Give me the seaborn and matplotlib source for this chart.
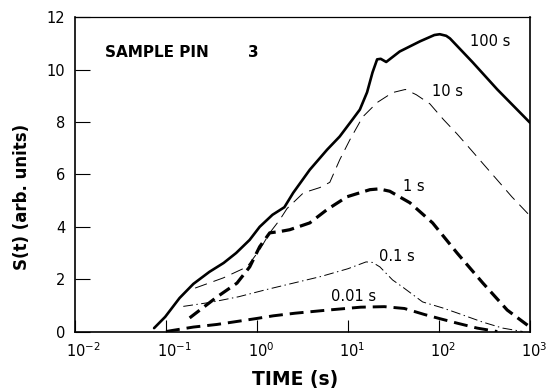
import matplotlib
matplotlib.use("Agg")
import matplotlib.pyplot as plt
from matplotlib.ticker import NullLocator, FixedLocator
from matplotlib.transforms import ScaledTranslation
import seaborn as sns

# Time axis values (s) and signal S(t) for each integration time
t_100 = [0.074, 0.098, 0.141, 0.20, 0.30, 0.43, 0.59, 0.83, 1.07, 1.48, 2.0, 2.5,
         3.8, 5.9, 8.1, 11.2, 13.5, 16.2, 18.6, 20.9, 22.9, 26.3, 37, 62, 89, 102,
         120, 132, 234, 437, 1000]
s_100 = [0.13, 0.56, 1.28, 1.82, 2.28, 2.62, 3.0, 3.5, 4.0, 4.46, 4.75, 5.3,
         6.18, 6.95, 7.45, 8.1, 8.48, 9.14, 9.9, 10.4, 10.42, 10.3, 10.7, 11.09, 11.33, 11.36,
         11.3, 11.2, 10.29, 9.25, 7.98]

t_10 = [0.209, 0.427, 0.776, 1.07, 1.38, 1.78, 2.14, 3.24, 4.9, 6.31, 8.13, 10.5,
        14.5, 20.9, 30.9, 42.7, 56.2, 79.4, 112, 158, 224, 316, 447, 631, 1000]
s_10 = [1.66, 2.05, 2.47, 3.12, 3.77, 4.27, 4.7, 5.3, 5.5, 5.7, 6.57, 7.33,
        8.2, 8.75, 9.13, 9.25, 9.05, 8.7, 8.1, 7.55, 6.95, 6.35, 5.75, 5.15, 4.42]

t_1 = [0.182, 0.363, 0.603, 0.832, 1.07, 1.38, 1.78, 2.29, 3.8, 5.89, 9.77, 17.4,
       21.9, 28.8, 47.9, 85.1, 158, 302, 562, 1000]
s_1 = [0.52, 1.32, 1.85, 2.47, 3.24, 3.77, 3.82, 3.89, 4.15, 4.66, 5.15, 5.42,
       5.45, 5.36, 4.92, 4.15, 3.0, 1.86, 0.82, 0.17]

t_01 = [0.155, 0.316, 0.631, 1.26, 2.51, 5.01, 10, 15.8, 18.6, 22.4, 30.9, 39.8,
        66.1, 110, 158, 302, 501, 832]
s_01 = [0.96, 1.12, 1.33, 1.6, 1.85, 2.1, 2.4, 2.66, 2.64, 2.47, 1.97, 1.7,
        1.13, 0.9, 0.71, 0.36, 0.13, 0.0]

t_001 = [0.1, 0.117, 0.2, 0.363, 0.646, 1.0, 1.51, 2.63, 6.03, 13.8, 25.1, 41.7,
         69.2, 100, 158, 263, 437]
s_001 = [0.0, 0.04, 0.17, 0.27, 0.4, 0.5, 0.6, 0.7, 0.82, 0.93, 0.95, 0.88,
         0.65, 0.5, 0.32, 0.13, 0.0]

curve_labels = ["100 s", "10 s", "1 s", "0.1 s", "0.01 s"]
y_ticks = [0, 2, 4, 6, 8, 10, 12]
x_ticks = [1e-2, 1e-1, 1e0, 1e1, 1e2, 1e3]
x_tick_labels = [r"$\mathdefault{10^{-2}}$", r"$\mathdefault{10^{-1}}$",
                 r"$\mathdefault{10^{0}}$", r"$\mathdefault{10^{1}}$",
                 r"$\mathdefault{10^{2}}$", r"$\mathdefault{10^{3}}$"]

sns.set_style("ticks")
plt.rcParams["font.family"] = ["DejaVu Sans"]
plt.rcParams["lines.scale_dashes"] = False
for key in ["text.color", "axes.labelcolor", "xtick.color", "ytick.color",
            "axes.edgecolor"]:
    plt.rcParams[key] = "black"

fig = plt.figure(figsize=(5.53, 3.92), dpi=100)
ax = fig.add_axes([0.1356, 0.1543, 0.8228, 0.8011])

sns.lineplot(x=t_100, y=s_100, ax=ax, color="black", lw=1.9, errorbar=None,
             linestyle="-")
sns.lineplot(x=t_10, y=s_10, ax=ax, color="black", lw=0.7, errorbar=None,
             linestyle=(0, (9, 5)))
sns.lineplot(x=t_1, y=s_1, ax=ax, color="black", lw=2.3, errorbar=None,
             linestyle=(0, (9, 4.5)))
sns.lineplot(x=t_01, y=s_01, ax=ax, color="black", lw=0.7, errorbar=None,
             linestyle=(0, (7, 2.5, 1, 2.5)))
sns.lineplot(x=t_001, y=s_001, ax=ax, color="black", lw=2.1, errorbar=None,
             linestyle=(0, (10, 5)))

ax.set_xscale("log")
ax.set_xlim(1e-2, 1e3)
ax.set_ylim(0, 12)
ax.set_yticks(y_ticks)
ax.xaxis.set_major_locator(FixedLocator(x_ticks))
ax.xaxis.set_minor_locator(NullLocator())
ax.set_xticklabels(x_tick_labels)
ax.tick_params(axis="x", direction="in", length=8.5, width=0.8, pad=7,
               labelsize=10.5)
ax.tick_params(axis="y", direction="in", length=10.5, width=0.8, pad=7,
               labelsize=10.5)

# keep the "10" of each power label centred on its tick, exponent to the right
shift = ScaledTranslation(-9.3 / 100, 0, fig.dpi_scale_trans)
for lab in ax.get_xticklabels():
    lab.set_ha("left")
    lab.set_transform(lab.get_transform() + shift)

for side in ["left", "right", "bottom"]:
    ax.spines[side].set_linewidth(1.2)
ax.spines["top"].set_linewidth(0.9)

# Curve annotations
label_pos = [(219, 11.09), (83.8, 9.18), (40.2, 5.54), (21.9, 2.85), (6.5, 1.32)]
for lab, (x, y) in zip(curve_labels, label_pos):
    ax.text(x, y, lab, fontsize=10.5, ha="left", va="center")

ax.text(0.0214, 10.67, "SAMPLE PIN", fontsize=11, fontweight="bold",
        ha="left", va="center")
ax.text(0.796, 10.67, "3", fontsize=11, fontweight="bold",
        ha="left", va="center")

ax.set_xlabel("TIME (s)", fontsize=13.5, fontweight="bold")
ax.set_ylabel("S(t) (arb. units)", fontsize=12, fontweight="bold")
ax.xaxis.set_label_coords(0.484, -0.154)
ax.xaxis.label.set_va("center")
ax.yaxis.set_label_coords(-0.117, 0.43)
ax.yaxis.label.set_va("center")

fig.savefig("out.png", dpi=100, facecolor="white")
